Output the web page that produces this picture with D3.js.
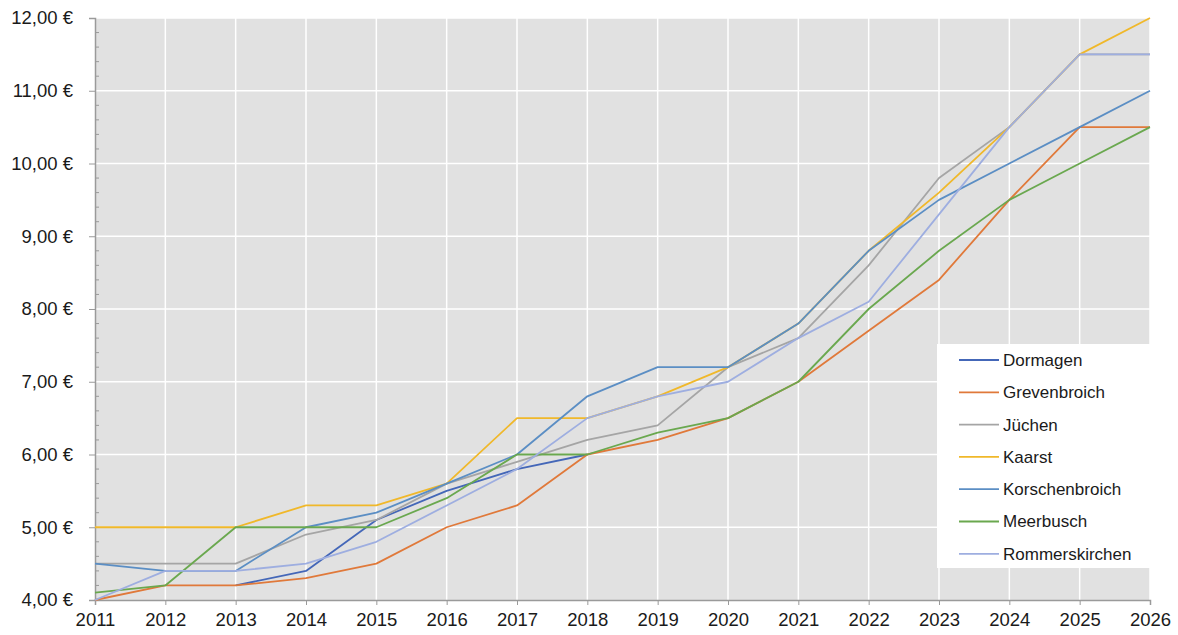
<!DOCTYPE html>
<html>
<head>
<meta charset="utf-8">
<script src="https://cdn.jsdelivr.net/npm/d3@7"></script>
<style>
    body { margin: 0; background: #fff; }
    text { font-family: "Liberation Sans", Arial, sans-serif; fill: #1a1a1a; }
</style>
</head>
<body>
<svg id="chart"></svg>
<script>
// years on the x axis
let years = [2011, 2012, 2013, 2014, 2015, 2016, 2017, 2018, 2019, 2020, 2021, 2022, 2023, 2024, 2025, 2026];

// series values (null = not visible in the picture)
let dormagen = [null, null, 4.2, 4.4, 5.1, 5.5, 5.8, 6.0, null, null, null, null, null, null, null, null];
let grevenbroich = [4.0, 4.2, 4.2, 4.3, 4.5, 5.0, 5.3, 6.0, 6.2, 6.5, 7.0, 7.7, 8.4, 9.5, 10.5, 10.5];
let juechen = [4.5, 4.5, 4.5, 4.9, 5.1, 5.6, 5.9, 6.2, 6.4, 7.2, 7.6, 8.6, 9.8, 10.5, 11.5, 11.5];
let kaarst = [5.0, 5.0, 5.0, 5.3, 5.3, 5.6, 6.5, 6.5, 6.8, 7.2, 7.8, 8.8, 9.6, 10.5, 11.5, 12.0];
let korschenbroich = [4.5, 4.4, 4.4, 5.0, 5.2, 5.6, 6.0, 6.8, 7.2, 7.2, 7.8, 8.8, 9.5, 10.0, 10.5, 11.0];
let meerbusch = [4.1, 4.2, 5.0, 5.0, 5.0, 5.4, 6.0, 6.0, 6.3, 6.5, 7.0, 8.0, 8.8, 9.5, 10.0, 10.5];
let rommerskirchen = [4.0, 4.4, 4.4, 4.5, 4.8, 5.3, 5.8, 6.5, 6.8, 7.0, 7.6, 8.1, 9.3, 10.5, 11.5, 11.5];

let names = ["Dormagen", "Grevenbroich", "Jüchen", "Kaarst", "Korschenbroich", "Meerbusch", "Rommerskirchen"];
let colors = ["#4467b8", "#e0793a", "#a5a5a5", "#f0b82a", "#5b8ec4", "#6aa84f", "#9eaee0"];
let values = [dormagen, grevenbroich, juechen, kaarst, korschenbroich, meerbusch, rommerskirchen];

// y axis ticks
let yTicks = [4, 5, 6, 7, 8, 9, 10, 11, 12];

let width = 1178, height = 635;
let margin = {top: 18, right: 28, bottom: 35, left: 95};

let svg = d3.select("#chart")
    .attr("width", width)
    .attr("height", height);

let x = d3.scaleLinear()
    .domain([years[0], years[years.length - 1]])
    .range([margin.left, width - margin.right]);

let y = d3.scaleLinear()
    .domain([4, 12])
    .range([height - margin.bottom, margin.top]);

// plot background
svg.append("rect")
    .attr("x", x.range()[0])
    .attr("y", y.range()[1])
    .attr("width", x.range()[1] - x.range()[0])
    .attr("height", y.range()[0] - y.range()[1])
    .attr("fill", "#e1e1e1");

// white grid
let grid = svg.append("g");
grid.selectAll(".vgrid").data(years.slice(1)).enter()
    .append("line")
    .attr("x1", d => x(d)).attr("x2", d => x(d))
    .attr("y1", y(12)).attr("y2", y(4))
    .attr("stroke", "#fff").attr("stroke-width", 1.5);
grid.selectAll(".hgrid").data(yTicks.slice(1)).enter()
    .append("line")
    .attr("x1", x.range()[0]).attr("x2", x.range()[1])
    .attr("y1", d => y(d)).attr("y2", d => y(d))
    .attr("stroke", "#fff").attr("stroke-width", 1.5);

// minor ticks on the y axis, inside
let minor = d3.range(4, 12.001, 0.2).filter(v => Math.abs(v - Math.round(v)) > 0.01);
svg.append("g").selectAll("line").data(minor).enter()
    .append("line")
    .attr("x1", x.range()[0]).attr("x2", x.range()[0] + 4)
    .attr("y1", d => y(d)).attr("y2", d => y(d))
    .attr("stroke", "#9a9a9a");

// y axis
let yAxis = svg.append("g")
    .attr("transform", "translate(" + x.range()[0] + ",0)")
    .call(d3.axisLeft(y).tickValues(yTicks).tickSize(6).tickPadding(16)
        .tickFormat(d => d3.format(".2f")(d).replace(".", ",") + " €"));

// x axis
let xAxis = svg.append("g")
    .attr("transform", "translate(0," + y.range()[0] + ")")
    .call(d3.axisBottom(x).tickValues(years).tickSize(5).tickPadding(8)
        .tickFormat(d3.format("d")));

[yAxis, xAxis].forEach(function (a) {
    a.select(".domain").attr("stroke", "#9a9a9a").attr("stroke-width", 1.5);
    a.selectAll(".tick line").attr("stroke", "#9a9a9a");
    a.selectAll("text").style("font-size", "18.5px").attr("fill", "#1a1a1a");
});
xAxis.select(".tick line").remove();

// series lines, drawn in legend order
let line = d3.line()
    .defined(d => d.v !== null)
    .x(d => x(d.year))
    .y(d => y(d.v));

svg.append("g").selectAll("path")
    .data(values).enter()
    .append("path")
    .attr("d", function (s) {
        return line(s.map((v, i) => ({year: years[i], v: v})));
    })
    .attr("fill", "none")
    .attr("stroke", (d, i) => colors[i])
    .attr("stroke-width", 1.8)
    .attr("stroke-linejoin", "round");

// legend
let legend = svg.append("g")
    .attr("transform", "translate(937,344)");

legend.append("rect")
    .attr("width", 213)
    .attr("height", 224)
    .attr("fill", "#fff");

let item = legend.selectAll(".item").data(names).enter()
    .append("g")
    .attr("transform", (d, i) => "translate(0," + (16 + i * 32.3) + ")");

item.append("line")
    .attr("x1", 22).attr("x2", 62)
    .attr("stroke", (d, i) => colors[i])
    .attr("stroke-width", 1.8);

item.append("text")
    .attr("x", 66)
    .attr("dy", "0.35em")
    .style("font-size", "17px")
    .text(d => d);
</script>
</body>
</html>
